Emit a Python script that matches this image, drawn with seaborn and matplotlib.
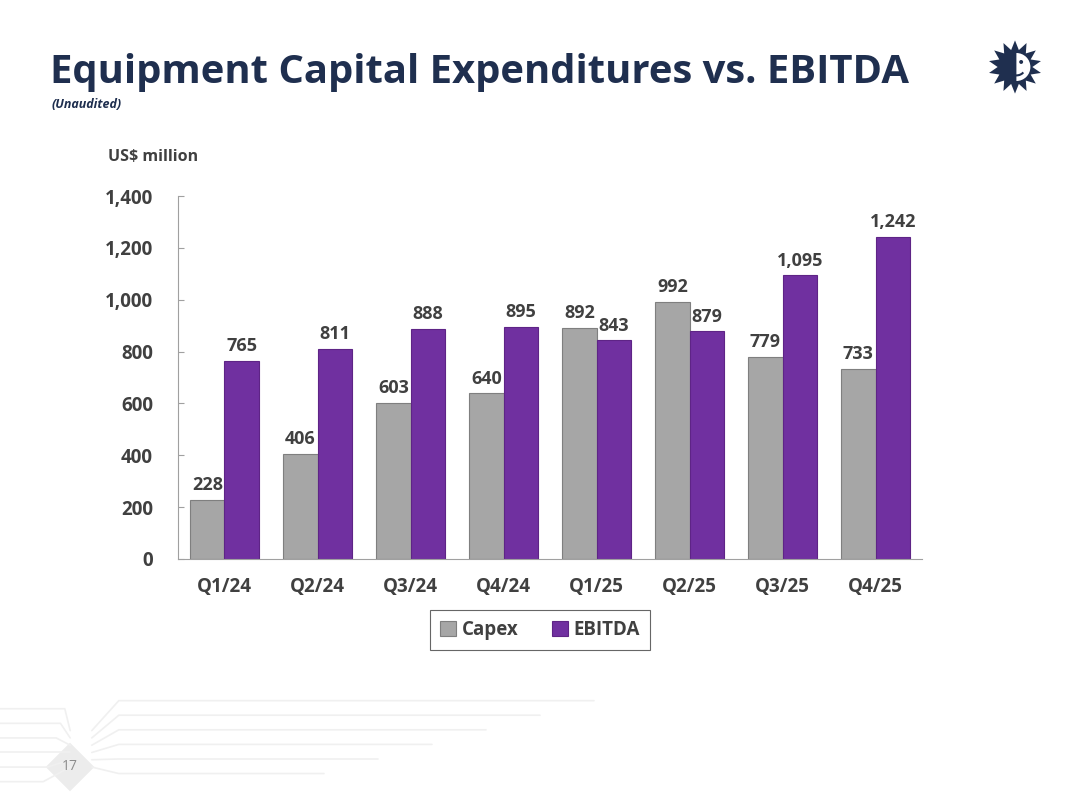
import matplotlib
matplotlib.use("Agg")
import matplotlib.pyplot as plt
import matplotlib.patches as mpatches
import seaborn as sns
import pandas as pd
import numpy as np

# Chart data
quarters = ["Q1/24", "Q2/24", "Q3/24", "Q4/24", "Q1/25", "Q2/25", "Q3/25", "Q4/25"]
capex = [228, 406, 603, 640, 892, 992, 779, 733]
ebitda = [765, 811, 888, 895, 843, 879, 1095, 1242]
series_names = ["Capex", "EBITDA"]
y_ticks = [0, 200, 400, 600, 800, 1000, 1200, 1400]

df = pd.DataFrame({
    "quarter": quarters * 2,
    "value": capex + ebitda,
    "series": [series_names[0]] * len(quarters) + [series_names[1]] * len(quarters),
})

sns.set_theme(style="white")
plt.rcParams["font.family"] = ["Open Sans", "DejaVu Sans"]

text_grey = "#404040"
navy = "#1F2F4F"
colors = {"Capex": "#A6A6A6", "EBITDA": "#7030A0"}
edges = {"Capex": "#7F7F7F", "EBITDA": "#5E2486"}

fig = plt.figure(figsize=(10.8, 8.1), dpi=100)
ax = fig.add_axes([0.1648, 0.3099, 0.689, 0.4481])

sns.barplot(data=df, x="quarter", y="value", hue="series", palette=colors,
            width=0.74, gap=0, saturation=1, ax=ax, legend=False)

for container, name in zip(ax.containers, series_names):
    for bar in container:
        bar.set_edgecolor(edges[name])
        bar.set_linewidth(0.8)
    ax.bar_label(container, labels=[f"{v:,.0f}" for v in container.datavalues],
                 padding=4, fontsize=13, fontweight="bold", color=text_grey)

ax.set_xlim(-0.5, len(quarters) - 0.5)
ax.set_ylim(0, 1400)
ax.set_yticks(y_ticks)
ax.set_yticklabels([f"{t:,}" for t in y_ticks], fontsize=13.5, fontweight="bold", color=text_grey)
ax.set_xticks(range(len(quarters)))
ax.set_xticklabels(quarters, fontsize=13.5, fontweight="bold", color=text_grey)
ax.set_xticks(np.arange(-0.5, len(quarters), 1), minor=True)
ax.tick_params(axis="x", which="major", length=0, pad=13)
ax.tick_params(axis="x", which="minor", length=5, width=0.8, color="#A0A0A0", direction="in")
ax.tick_params(axis="y", length=4.5, width=0.8, color="#A0A0A0", direction="in", left=True, pad=18)
ax.set_xlabel("")
ax.set_ylabel("")
sns.despine(ax=ax)
for side in ["left", "bottom"]:
    ax.spines[side].set_color("#A0A0A0")
    ax.spines[side].set_linewidth(0.8)

handles = [mpatches.Patch(facecolor=colors[n], edgecolor=edges[n], linewidth=0.8, label=n)
           for n in series_names]
leg = fig.legend(handles=handles, loc="center", bbox_to_anchor=(0.5, 0.222), ncol=2,
                 frameon=True, fancybox=False, handlelength=0.85, handleheight=0.85,
                 handletextpad=0.3, columnspacing=1.8, borderpad=0.55,
                 prop={"size": 13.5, "weight": "bold"})
leg.get_frame().set_edgecolor("#404040")
leg.get_frame().set_linewidth(0.8)
for t in leg.get_texts():
    t.set_color(text_grey)

# Titles
fig.text(0.046, 0.91, "Equipment Capital Expenditures vs. EBITDA", fontsize=28.8,
         fontweight="bold", color=navy, va="center", ha="left")
fig.text(0.048, 0.871, "(Unaudited)", fontsize=9, fontweight="bold", style="italic",
         color=navy, va="center", ha="left")
fig.text(0.1, 0.806, "US$ million", fontsize=11.5, fontweight="bold", color=text_grey,
         va="center", ha="left")

# Logo: navy sunburst with a smiling face
lax = fig.add_axes([987 / 1080, 1 - 95 / 810, 56 / 1080, 56 / 810])
lax.set_xlim(-1, 1)
lax.set_ylim(-1, 1)
lax.set_aspect("equal")
lax.axis("off")
n = 14
ang = np.linspace(0, 2 * np.pi, 2 * n, endpoint=False) + np.pi / 2
rad = np.where(np.arange(2 * n) % 2 == 0, 0.95, 0.62)
lax.add_patch(mpatches.Polygon(np.column_stack([rad * np.cos(ang), rad * np.sin(ang)]),
                               closed=True, facecolor=navy, edgecolor="none"))
lax.add_patch(mpatches.Wedge((0.05, 0), 0.5, -90, 90, facecolor="white", edgecolor="none"))
lax.add_patch(mpatches.Circle((0.22, 0.18), 0.07, facecolor=navy, edgecolor="none"))
lax.add_patch(mpatches.Arc((0.05, -0.05), 0.6, 0.5, theta1=230, theta2=330, color=navy, lw=1.5))

# Footer decoration and page number
for k in range(6):
    yv = 0.035 + k * 0.018
    fig.add_artist(plt.Line2D([0, 0.04 + k * 0.004, 0.065], [yv, yv, 0.053 + k * 0.009],
                              transform=fig.transFigure, color="#F0F0F0", lw=1.2))
    fig.add_artist(plt.Line2D([0.085, 0.11, 0.3 + k * 0.05], [0.053 + k * 0.009, yv + 0.01, yv + 0.01],
                              transform=fig.transFigure, color="#F0F0F0", lw=1.2))
dx, dy = 70 / 1080, 1 - 767 / 810
diamond = np.array([[dx, dy + 0.03], [dx + 0.0225, dy], [dx, dy - 0.03], [dx - 0.0225, dy]])
fig.patches.append(mpatches.Polygon(diamond, closed=True, facecolor="#ECECEC", edgecolor="none",
                                    transform=fig.transFigure))
fig.text(dx, dy, "17", fontsize=10, color="#8C8C8C", ha="center", va="center")

fig.savefig("out.png", dpi=100)
